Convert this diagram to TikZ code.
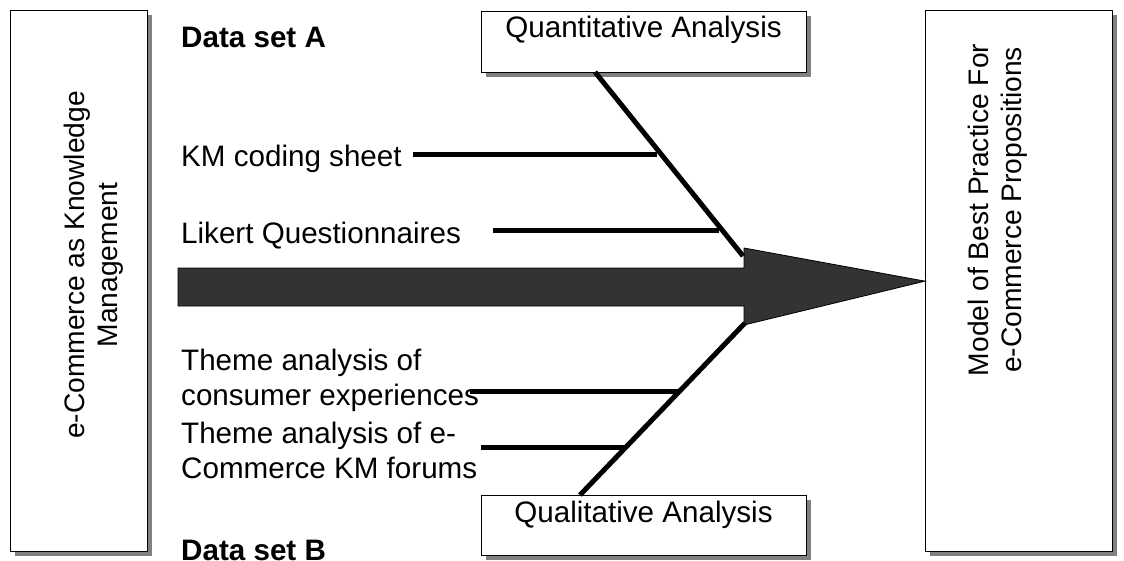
\documentclass[tikz,border=0pt]{standalone}
\usepackage{fontspec}
\setmainfont{Liberation Sans}
\usetikzlibrary{shadows}
\definecolor{arrowgray}{HTML}{333333}
\definecolor{shadowgray}{HTML}{808080}
\newcommand\fsz{\fontsize{29.6}{35}\selectfont}
\newcommand\rsz{\fontsize{28.2}{33}\selectfont}
\begin{document}
\begin{tikzpicture}[x=1pt,y=-1pt,
  box/.style={draw=black,line width=1.3pt,fill=white,inner sep=0pt,anchor=north west,
    drop shadow={shadow xshift=4.5pt,shadow yshift=-4.5pt,fill=shadowgray,opacity=1}},
  lbl/.style={font=\fsz,inner sep=0pt,anchor=base west},
  bone/.style={line width=5pt},
  ]
\useasboundingbox (0,0) rectangle (1124,560);
% boxes
\node[box,minimum width=137pt,minimum height=541pt] (L) at (10,10) {};
\node[box,minimum width=187pt,minimum height=541pt] (R) at (925,10) {};
\node[box,minimum width=325pt,minimum height=61pt] (QA) at (481,11) {};
\node[box,minimum width=325pt,minimum height=60pt] (QL) at (481,495) {};
% box texts
\node[font=\rsz,rotate=90,align=center,inner sep=0pt] (Lt) at (94,265) {e-Commerce as Knowledge\\Management};
\node[font=\rsz,rotate=90,align=center,inner sep=0pt] (Rt) at (998,210) {Model of Best Practice For\\e-Commerce Propositions};
\node[font=\fsz,inner sep=0pt,anchor=base] (QAt) at (643.5,37) {Quantitative Analysis};
\node[font=\fsz,inner sep=0pt,anchor=base] (QLt) at (643.5,522) {Qualitative Analysis};
% labels
\node[lbl,font=\fsz\bfseries] (dA) at (181,47) {Data set A};
\node[lbl,font=\fsz\bfseries] (dB) at (181,560) {Data set B};
\node[lbl] (km) at (181,166) {KM coding sheet};
\node[lbl] (lk) at (181,243) {Likert Questionnaires};
\node[lbl] (t1) at (181,370) {Theme analysis of};
\node[lbl] (t2) at (181,405) {consumer experiences};
\node[lbl] (t3) at (181,443) {Theme analysis of e-};
\node[lbl] (t4) at (181,478) {Commerce KM forums};
% main arrow
\coordinate (tip) at (R.west);
\draw[fill=arrowgray,line width=0.8pt] (178,268) -- (744,268) -- (744,248) -- (tip) -- (744,325) -- (744,306) -- (178,306) -- cycle;
% fishbone
\coordinate (ua) at (595,72);
\coordinate (ub) at (743,256);
\coordinate (la) at (580,495);
\coordinate (lb) at (745,323);
\draw[bone] (ua) -- (ub);
\draw[bone] (la) -- (lb);
\coordinate (k1) at (413,154); \coordinate (k2) at (657,154);
\coordinate (q1) at (493,230); \coordinate (q2) at (719,230);
\coordinate (c1) at (470,391); \coordinate (c2) at (680,391);
\coordinate (f1) at (481,447); \coordinate (f2) at (625,447);
\draw[bone] (k1) -- (k2);
\draw[bone] (q1) -- (q2);
\draw[bone] (c1) -- (c2);
\draw[bone] (f1) -- (f2);
\end{tikzpicture}
\end{document}
